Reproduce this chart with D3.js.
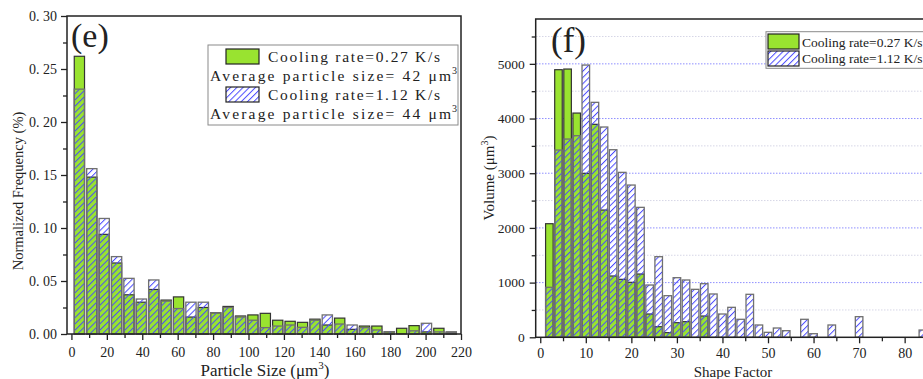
<!DOCTYPE html>
<html>
<head>
<meta charset="utf-8">
<script src="https://cdn.jsdelivr.net/npm/d3@7"></script>
<style>
  body { margin: 0; background: #fff; }
  svg { display: block; }
  text { font-family: "Liberation Serif", "DejaVu Serif", serif; fill: #222; }
</style>
</head>
<body>
<div id="chart"></div>
<script>
// panel (e): particle size histogram
const sizeBins = [4.5, 11.5, 18.5, 25.5, 32.5, 39.5, 46.5, 53.5, 60.5, 67.5, 74.5, 81.5, 88.5, 95.5,
  102.5, 109.5, 116.5, 123.5, 130.5, 137.5, 144.5, 151.5, 158.5, 165.5, 172.5, 179.5, 186.5,
  193.5, 200.5, 207.5, 214.5];
const sizeSlow = [0.262, 0.148, 0.094, 0.067, 0.037, 0.030, 0.042, 0.032, 0.035, 0.016, 0.025,
  0.020, 0.026, 0.017, 0.018, 0.0195, 0.013, 0.012, 0.011, 0.014, 0.0085, 0.015, 0.0044, 0.0075,
  0.0075, 0.002, 0.0054, 0.0079, 0.002, 0.0054, 0.0019];
const sizeFast = [0.231, 0.156, 0.109, 0.073, 0.0525, 0.033, 0.051, 0.031, 0.024, 0.030, 0.030,
  0.020, 0.025, 0.016, 0.013, 0.006, 0.0075, 0.0085, 0.0063, 0.013, 0.018, 0.0094, 0.0085, 0.006,
  0.0038, 0.002, 0, 0.003, 0.0101, 0.002, 0.0015];
const sizeTicks = [0, 20, 40, 60, 80, 100, 120, 140, 160, 180, 200, 220];
const freqTicks = [0, 0.05, 0.10, 0.15, 0.20, 0.25, 0.30];

// panel (f): shape factor histogram
const shapeBins = [2, 4, 6, 8, 10, 12, 14, 16, 18, 20, 22, 24, 26, 28, 30, 32, 34, 36, 38, 40, 42,
  44, 46, 48, 50, 52, 54, 56, 58, 60, 62, 64, 66, 68, 70, 72, 74, 76, 78, 80, 82, 84];
const shapeSlow = [2077, 4893, 4905, 4100, 2998, 3894, 2327, 1121, 1060, 1005, 1157, 426, 194, 85,
  267, 286, 0, 389, 0, 0, 0, 0, 0, 0, 0, 0, 0, 0, 0, 0, 0, 0, 0, 0, 0, 0, 0, 0, 0, 0, 0, 0];
const shapeFast = [914, 3424, 3625, 3686, 4978, 4296, 3845, 3430, 3016, 2784, 2376, 956, 1474, 761,
  1090, 1048, 877, 980, 792, 426, 548, 329, 786, 225, 91, 170, 121, 0, 329, 66, 0, 225, 0, 0, 377,
  0, 0, 0, 0, 0, 0, 133];
const shapeTicks = [0, 10, 20, 30, 40, 50, 60, 70, 80];
const volTicks = [0, 1000, 2000, 3000, 4000, 5000];

const green = "#99e330";
const hatchBlue = "#4a4aff";

const svg = d3.select("#chart").append("svg").attr("width", 923).attr("height", 379);

// diagonal "/" hatch, transparent between the lines
const defs = svg.append("defs");
const pat = defs.append("pattern")
  .attr("id", "hatch")
  .attr("patternUnits", "userSpaceOnUse")
  .attr("width", 4.4).attr("height", 4.4)
  .attr("patternTransform", "rotate(45)");
pat.append("rect")
  .attr("x", 0).attr("y", 0).attr("width", 1.0).attr("height", 4.4)
  .attr("fill", hatchBlue);

function pairBars(g, bins, slow, fast, x, y, w) {
  const data = bins.map((b, i) => ({ b: b, s: slow[i], f: fast[i] }));
  g.append("g").selectAll("rect")
    .data(data.filter(d => d.s > 0)).enter().append("rect")
    .attr("x", d => x(d.b - w / 2))
    .attr("width", d => x(d.b + w / 2) - x(d.b - w / 2))
    .attr("y", d => y(d.s))
    .attr("height", d => y(0) - y(d.s))
    .attr("fill", green).attr("stroke", "#333").attr("stroke-width", 1.2);
  g.append("g").selectAll("rect")
    .data(data.filter(d => d.f > 0)).enter().append("rect")
    .attr("x", d => x(d.b - w / 2))
    .attr("width", d => x(d.b + w / 2) - x(d.b - w / 2))
    .attr("y", d => y(d.f))
    .attr("height", d => y(0) - y(d.f))
    .attr("fill", "url(#hatch)").attr("stroke", "#707070").attr("stroke-width", 1.3);
}

function styleAxis(a) {
  a.select(".domain").remove();
  a.selectAll("line").attr("stroke", "#222").attr("stroke-width", 1.3);
  a.selectAll("text").attr("fill", "#333");
}

// ---------- (e) ----------
const xL = d3.scaleLinear().domain([-2.5, 220]).range([67, 461]);
const yL = d3.scaleLinear().domain([0, 0.30]).range([334, 16]);
const gL = svg.append("g");

pairBars(gL, sizeBins, sizeSlow, sizeFast, xL, yL, 5.8);

gL.append("g").attr("transform", "translate(0,334)")
  .call(d3.axisBottom(xL).tickValues(sizeTicks).tickSize(6).tickPadding(7).tickFormat(d3.format("d")))
  .call(a => a.selectAll("text").style("font-size", "14px"))
  .call(styleAxis);
gL.append("g").attr("transform", "translate(0,334)")
  .call(d3.axisBottom(xL).tickValues(d3.range(10, 220, 20)).tickSize(4).tickFormat(""))
  .call(styleAxis);
gL.append("g").attr("transform", "translate(67,0)")
  .call(d3.axisLeft(yL).tickValues(freqTicks).tickSize(6).tickPadding(4)
    .tickFormat(d => d3.format(".2f")(d).replace(".", ". ")))
  .call(a => a.selectAll("text").style("font-size", "14px"))
  .call(styleAxis);
gL.append("g").attr("transform", "translate(67,0)")
  .call(d3.axisLeft(yL).tickValues([0.025, 0.075, 0.125, 0.175, 0.225, 0.275]).tickSize(4).tickFormat(""))
  .call(styleAxis);

gL.append("rect").attr("x", 67).attr("y", 16).attr("width", 394).attr("height", 318)
  .attr("fill", "none").attr("stroke", "#222").attr("stroke-width", 1.5);

gL.append("text").attr("x", 71).attr("y", 47).style("font-size", "34px").text("(e)");

gL.append("text").attr("transform", "translate(23,191) rotate(-90)")
  .attr("text-anchor", "middle").style("font-size", "14.5px").text("Normalized Frequency (%)");
const xlabL = gL.append("text").attr("x", 265).attr("y", 376)
  .attr("text-anchor", "middle").style("font-size", "17px");
xlabL.append("tspan").text("Particle Size (\u03bcm");
xlabL.append("tspan").attr("dy", -7).style("font-size", "11px").text("3");
xlabL.append("tspan").attr("dy", 7).text(")");

// legend (e)
const legL = gL.append("g");
legL.append("rect").attr("x", 208).attr("y", 45).attr("width", 250).attr("height", 80)
  .attr("fill", "#fff").attr("stroke", "#8a8a8a").attr("stroke-width", 1);
legL.append("rect").attr("x", 226).attr("y", 49).attr("width", 33).attr("height", 15)
  .attr("fill", green).attr("stroke", "#222").attr("stroke-width", 1.2);
legL.append("rect").attr("x", 226).attr("y", 87).attr("width", 33).attr("height", 15)
  .attr("fill", "url(#hatch)").attr("stroke", "#222").attr("stroke-width", 1.2);
const legRows = [
  { x: 268, y: 62, len: 172, t: "Cooling rate=0.27 K/s", sup: false },
  { x: 210, y: 81, len: 241, t: "Average particle size= 42 \u03bcm", sup: true },
  { x: 268, y: 100, len: 172, t: "Cooling rate=1.12 K/s", sup: false },
  { x: 210, y: 119, len: 241, t: "Average particle size= 44 \u03bcm", sup: true }
];
legRows.forEach(r => {
  legL.append("text").attr("x", r.x).attr("y", r.y)
    .attr("textLength", r.len).attr("lengthAdjust", "spacing")
    .style("font-size", "15.5px").text(r.t);
  if (r.sup) {
    legL.append("text").attr("x", r.x + r.len + 1).attr("y", r.y - 7)
      .style("font-size", "10px").text("3");
  }
});

// ---------- (f) ----------
const xR = d3.scaleLinear().domain([-1, 90]).range([535.7, 950.2]);
const yR = d3.scaleLinear().domain([0, 5820]).range([337.3, 19]);
const gR = svg.append("g");

gR.append("g").selectAll("line")
  .data(d3.range(500, 5600, 500)).enter().append("line")
  .attr("x1", 536).attr("x2", 950)
  .attr("y1", d => yR(d)).attr("y2", d => yR(d))
  .attr("stroke", d => d % 1000 === 0 ? "#8f8fff" : "#d6d6e6")
  .attr("stroke-width", 1).attr("stroke-dasharray", "1.5,1.5");

pairBars(gR, shapeBins, shapeSlow, shapeFast, xR, yR, 1.66);

gR.append("g").attr("transform", "translate(0,337.3)")
  .call(d3.axisBottom(xR).tickValues(shapeTicks).tickSize(6).tickPadding(5).tickFormat(d3.format("d")))
  .call(a => a.selectAll("text").style("font-size", "14px"))
  .call(styleAxis);
gR.append("g").attr("transform", "translate(0,337.3)")
  .call(d3.axisBottom(xR).tickValues(d3.range(5, 90, 10)).tickSize(4).tickFormat(""))
  .call(styleAxis);
gR.append("g").attr("transform", "translate(535.7,0)")
  .call(d3.axisLeft(yR).tickValues(volTicks).tickSize(6).tickPadding(5).tickFormat(d3.format("d")))
  .call(a => a.selectAll("text").style("font-size", "13.5px"))
  .call(styleAxis);
gR.append("g").attr("transform", "translate(535.7,0)")
  .call(d3.axisLeft(yR).tickValues(d3.range(500, 5600, 1000)).tickSize(4).tickFormat(""))
  .call(styleAxis);

gR.append("rect").attr("x", 535.7).attr("y", 19).attr("width", 414.5).attr("height", 318.3)
  .attr("fill", "none").attr("stroke", "#222").attr("stroke-width", 1.5);

gR.append("text").attr("x", 551).attr("y", 52).style("font-size", "35px").text("(f)");

const ylabR = gR.append("text").attr("transform", "translate(494,178) rotate(-90)")
  .attr("text-anchor", "middle").style("font-size", "15px");
ylabR.append("tspan").text("Volume (\u03bcm");
ylabR.append("tspan").attr("dy", -6).style("font-size", "10px").text("3");
ylabR.append("tspan").attr("dy", 6).text(")");
gR.append("text").attr("x", 733).attr("y", 377)
  .attr("text-anchor", "middle").style("font-size", "15px").text("Shape Factor");

// legend (f)
const legR = gR.append("g");
legR.append("rect").attr("x", 766).attr("y", 31.7).attr("width", 190).attr("height", 36.6)
  .attr("fill", "#fff").attr("stroke", "#8a8a8a").attr("stroke-width", 1);
legR.append("rect").attr("x", 768).attr("y", 34).attr("width", 31).attr("height", 15)
  .attr("fill", green).attr("stroke", "#222").attr("stroke-width", 1.2);
legR.append("rect").attr("x", 768).attr("y", 51).attr("width", 31).attr("height", 15)
  .attr("fill", "url(#hatch)").attr("stroke", "#222").attr("stroke-width", 1.2);
legR.append("text").attr("x", 802).attr("y", 46.5).style("font-size", "13.5px").text("Cooling rate=0.27 K/s");
legR.append("text").attr("x", 802).attr("y", 63).style("font-size", "13.5px").text("Cooling rate=1.12 K/s");
</script>
</body>
</html>
